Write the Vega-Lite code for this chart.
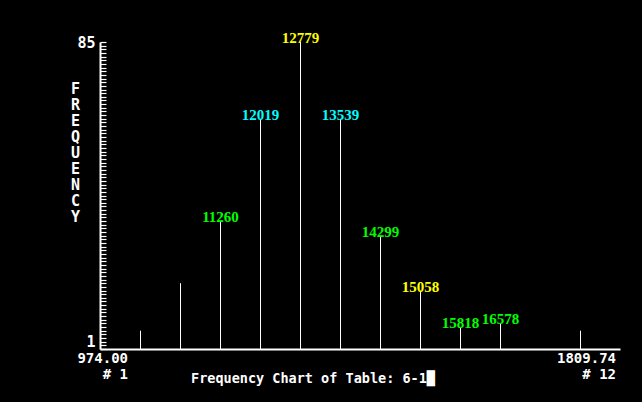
{
  "$schema": "https://vega.github.io/schema/vega-lite/v6.json",
  "width": 520,
  "height": 307,
  "autosize": "none",
  "padding": {"left": 100, "top": 42, "right": 22, "bottom": 53},
  "background": "#000000",
  "config": {"view": {"stroke": null}},
  "data": {
    "values": [
      {"bin": 1, "freq": 6},
      {"bin": 2, "freq": 19},
      {"bin": 3, "freq": 36, "label": "11260", "series": "g"},
      {"bin": 4, "freq": 64, "label": "12019", "series": "c"},
      {"bin": 5, "freq": 85, "label": "12779", "series": "y"},
      {"bin": 6, "freq": 64, "label": "13539", "series": "c"},
      {"bin": 7, "freq": 32, "label": "14299", "series": "g"},
      {"bin": 8, "freq": 17, "label": "15058", "series": "y"},
      {"bin": 9, "freq": 7, "label": "15818", "series": "g"},
      {"bin": 10, "freq": 8, "label": "16578", "series": "g"},
      {"bin": 11, "freq": 1},
      {"bin": 12, "freq": 6}
    ]
  },
  "encoding": {
    "x": {
      "field": "bin",
      "type": "quantitative",
      "scale": {"domain": [-0.0125, 12.9875], "nice": false, "zero": false},
      "axis": {
        "values": [0.675, 12.875],
        "ticks": false,
        "grid": false,
        "domainColor": "white",
        "domainWidth": 2,
        "labelExpr": "datum.value < 5 ? ['974.00', '#  1'] : ['1809.74', '# 12']",
        "labelAlign": "right",
        "labelBaseline": "top",
        "labelPadding": 2,
        "labelFont": "DejaVu Sans Mono",
        "labelFontSize": 14,
        "labelFontWeight": "bold",
        "labelColor": "white",
        "labelLineHeight": 16,
        "labelOverlap": false,
        "labelFlush": false,
        "title": "Frequency Chart of Table: 6-1█",
        "titleFont": "DejaVu Sans Mono",
        "titleFontSize": 13.5,
        "titleFontWeight": "bold",
        "titleColor": "white",
        "titleX": 212.5,
        "titleY": 33,
        "titleBaseline": "alphabetic",
        "titleAlign": "center"
      }
    },
    "y": {
      "field": "freq",
      "type": "quantitative",
      "scale": {"domain": [1, 85], "nice": false, "zero": false},
      "axis": {
        "values": [1,2,3,4,5,6,7,8,9,10,11,12,13,14,15,16,17,18,19,20,21,22,23,24,25,26,27,28,29,30,31,32,33,34,35,36,37,38,39,40,41,42,43,44,45,46,47,48,49,50,51,52,53,54,55,56,57,58,59,60,61,62,63,64,65,66,67,68,69,70,71,72,73,74,75,76,77,78,79,80,81,82,83,84,85],
        "tickSize": -6,
        "tickColor": "white",
        "tickWidth": 1.2,
        "domainColor": "white",
        "domainWidth": 2,
        "grid": false,
        "labelExpr": "datum.value == 1 || datum.value == 85 ? datum.label : ''",
        "labelFont": "DejaVu Sans Mono",
        "labelFontSize": 15,
        "labelFontWeight": "bold",
        "labelColor": "white",
        "labelPadding": 11,
        "labelBaseline": {"condition": {"test": "datum.value == 1", "value": "bottom"}, "value": "middle"},
        "labelOverlap": false,
        "labelFlush": false,
        "title": ["F", "R", "E", "Q", "U", "E", "N", "C", "Y"],
        "titleAngle": 0,
        "titleFont": "DejaVu Sans Mono",
        "titleFontSize": 15,
        "titleFontWeight": "bold",
        "titleColor": "white",
        "titleLineHeight": 16,
        "titleX": -25,
        "titleY": 39,
        "titleAlign": "center",
        "titleBaseline": "top"
      }
    }
  },
  "layer": [
    {
      "mark": {"type": "rule", "color": "white", "strokeWidth": 1},
      "encoding": {"y2": {"datum": 1}}
    },
    {
      "transform": [{"filter": "datum.label != null"}],
      "mark": {"type": "text", "font": "Liberation Serif", "fontWeight": "bold", "fontSize": 15, "baseline": "alphabetic", "align": "center", "dy": 1},
      "encoding": {
        "text": {"field": "label"},
        "color": {"field": "series", "type": "nominal", "scale": {"domain": ["g", "c", "y"], "range": ["#00ff00", "#00ffff", "#ffff00"]}, "legend": null}
      }
    }
  ]
}
